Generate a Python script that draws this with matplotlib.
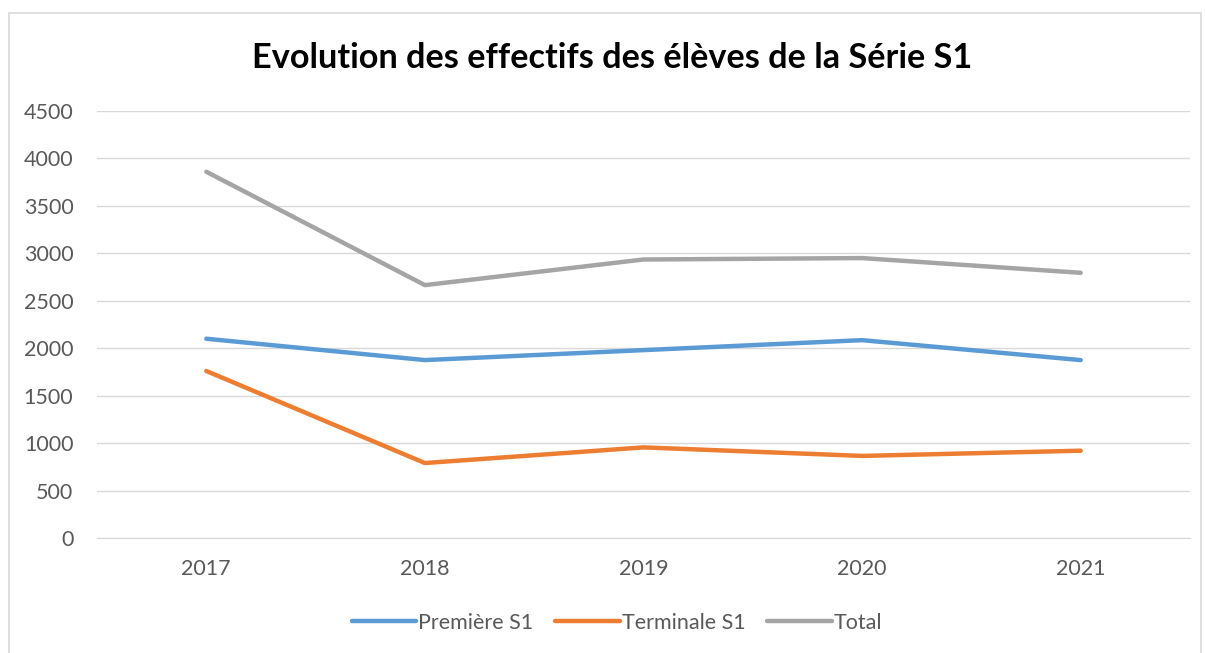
import matplotlib.pyplot as plt
from matplotlib.patches import Rectangle

annees = ['2017', '2018', '2019', '2020', '2021']
premiere = [2100, 1875, 1980, 2085, 1875]
terminale = [1760, 790, 955, 865, 920]
total = [3860, 2665, 2935, 2950, 2795]

plt.rcParams['font.family'] = ['Lato', 'DejaVu Sans']

W, H = 1205, 653
fig = plt.figure(figsize=(W / 100, H / 100), dpi=100)

# cadre du graphique
fig.patches.append(Rectangle((9 / W, -0.05), (1201 - 9) / W, 1.05 - 13 / H,
                             transform=fig.transFigure, fill=False,
                             edgecolor='#d9d9d9', linewidth=1.2))

ax = fig.add_axes([97 / W, 1 - 538 / H, (1190 - 97) / W, (538 - 111) / H])

x = range(len(annees))
ax.plot(x, premiere, color='#5b9bd5', linewidth=3.2, solid_capstyle='round', label='Première S1')
ax.plot(x, terminale, color='#ed7d31', linewidth=3.2, solid_capstyle='round', label='Terminale S1')
ax.plot(x, total, color='#a5a5a5', linewidth=3.2, solid_capstyle='round', label='Total')

ax.set_xlim(-0.5, 4.5)
ax.set_ylim(0, 4500)
ax.set_yticks(range(0, 4501, 500))
ax.set_xticks(list(x))
ax.set_xticklabels(annees)
ax.grid(axis='y', color='#d9d9d9', linewidth=1)
ax.set_axisbelow(True)
for s in ['top', 'right', 'left']:
    ax.spines[s].set_visible(False)
ax.spines['bottom'].set_color('#d9d9d9')
ax.tick_params(length=0, labelsize=15.5, labelcolor='#595959')
ax.tick_params(axis='y', pad=17)
ax.tick_params(axis='x', pad=15)

fig.text(612 / W, 1 - 58 / H, 'Evolution des effectifs des élèves de la Série S1',
         ha='center', va='center', fontsize=24.7, fontweight='bold')

fig.legend(loc='center', bbox_to_anchor=(617 / W, 1 - 623 / H), ncol=3,
           frameon=False, fontsize=15.5, labelcolor='#595959',
           handlelength=3.0, handletextpad=0.1, columnspacing=1.0)

fig.savefig('out.png', dpi=100)
